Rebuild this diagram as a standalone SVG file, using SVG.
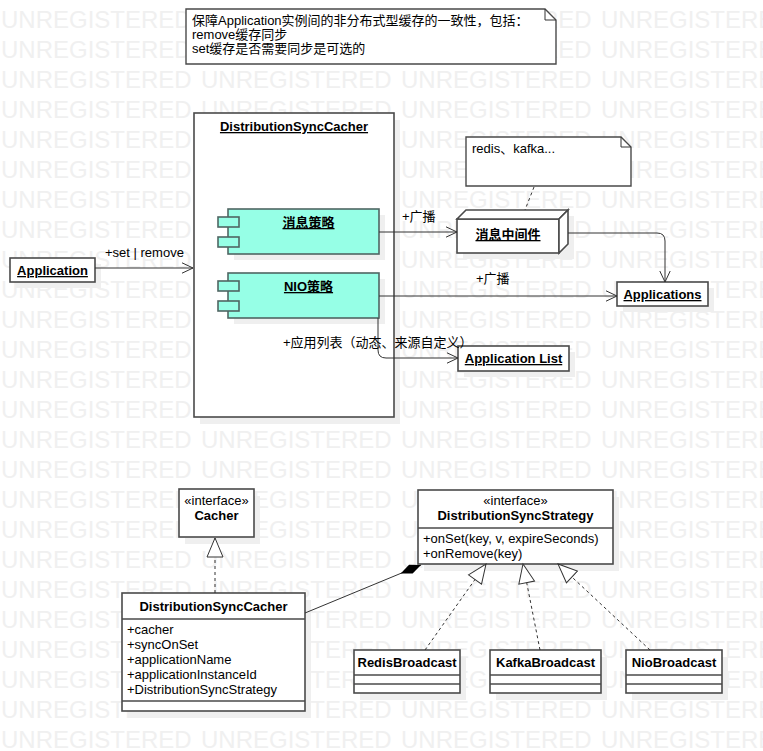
<svg xmlns="http://www.w3.org/2000/svg" width="763" height="751" viewBox="0 0 763 751">
<style>
.t{font-family:"Liberation Sans","Noto Sans CJK SC",sans-serif;font-size:13px;fill:#000}
.b{font-weight:bold}
.u{text-decoration:underline}
.m{text-anchor:middle}
.wm{font-family:"Liberation Sans",sans-serif;font-size:24px;fill:#f0f0f0}
.box{fill:#fff;stroke:#4a4a4a;stroke-width:1.6}
.comp{fill:#96ffe6;stroke:#4f6663;stroke-width:1.6}
.sh{fill:#efefef}
.note{fill:#fff;stroke:#4a4a4a;stroke-width:1.4}
.sep{stroke:#4a4a4a;stroke-width:1.6}
.ln{fill:none;stroke:#333;stroke-width:1}
.dash{stroke-dasharray:3,3}
</style>
<defs>
<marker id="open" markerUnits="userSpaceOnUse" markerWidth="14" markerHeight="12" refX="12" refY="6" orient="auto"><path d="M1,0.8 L12,6 L1,11.2" fill="none" stroke="#333" stroke-width="1"/></marker>
<marker id="tri" markerUnits="userSpaceOnUse" markerWidth="22" markerHeight="18" refX="20" refY="9" orient="auto"><path d="M1,1 L20,9 L1,17 Z" fill="#fff" stroke="#333" stroke-width="1"/></marker>
<marker id="dia" markerUnits="userSpaceOnUse" markerWidth="24" markerHeight="12" refX="23" refY="6" orient="auto"><path d="M1,6 L12,1.3 L23,6 L12,10.7 Z" fill="#000"/></marker>
<g id="wmrow"><text class="wm" x="1">UNREGISTERED</text><text class="wm" x="201">UNREGISTERED</text><text class="wm" x="401">UNREGISTERED</text><text class="wm" x="601">UNREGISTERED</text></g>
</defs>
<rect width="763" height="751" fill="#fff"/>
<g id="watermark">
<use href="#wmrow" y="28"/><use href="#wmrow" y="58"/><use href="#wmrow" y="88"/><use href="#wmrow" y="118"/><use href="#wmrow" y="148"/>
<use href="#wmrow" y="178"/><use href="#wmrow" y="208"/><use href="#wmrow" y="238"/><use href="#wmrow" y="268"/><use href="#wmrow" y="298"/>
<use href="#wmrow" y="328"/><use href="#wmrow" y="358"/><use href="#wmrow" y="388"/><use href="#wmrow" y="418"/><use href="#wmrow" y="448"/>
<use href="#wmrow" y="478"/><use href="#wmrow" y="508"/><use href="#wmrow" y="538"/><use href="#wmrow" y="568"/><use href="#wmrow" y="598"/>
<use href="#wmrow" y="628"/><use href="#wmrow" y="658"/><use href="#wmrow" y="688"/><use href="#wmrow" y="718"/><use href="#wmrow" y="748"/>
</g>
<g id="note-main">
<path class="note" d="M186,9 H545 L556,20 V64 H186 Z"/>
<path class="ln" d="M545,9 V20 H556" stroke="#4a4a4a"/>
<text class="t" x="192" y="25">保障Application实例间的非分布式型缓存的一致性，包括：</text>
<text class="t" x="192" y="39">remove缓存同步</text>
<text class="t" x="192" y="53">set缓存是否需要同步是可选的</text>
</g>
<g id="DistributionSyncCacher-frame">
<rect class="sh" x="200" y="120" width="200" height="304"/>
<rect class="box" x="194" y="113" width="200" height="304"/>
<text class="t b u m" x="294" y="131">DistributionSyncCacher</text>
</g>
<g id="msg-strategy">
<rect class="sh" x="234" y="215" width="151" height="45"/>
<rect class="comp" x="228" y="209" width="151" height="45"/>
<rect class="comp" x="218" y="217" width="21" height="10"/>
<rect class="comp" x="218" y="237" width="21" height="10"/>
<text class="t b u m" x="308.5" y="227">消息策略</text>
</g>
<g id="nio-strategy">
<rect class="sh" x="234" y="279" width="151" height="45"/>
<rect class="comp" x="228" y="273" width="151" height="45"/>
<rect class="comp" x="218" y="281" width="21" height="10"/>
<rect class="comp" x="218" y="301" width="21" height="10"/>
<text class="t b u m" x="308.5" y="291">NIO策略</text>
</g>
<g id="application">
<rect class="sh" x="16" y="264" width="85" height="24"/>
<rect class="box" x="10" y="258" width="85" height="24"/>
<text class="t b u m" x="52.5" y="275">Application</text>
</g>
<g id="note-redis">
<path class="note" d="M466,137 H621 L631,147 V186 H466 Z"/>
<path class="ln" d="M621,137 V147 H631" stroke="#4a4a4a"/>
<text class="t" x="472" y="153">redis、kafka...</text>
</g>
<g id="mq">
<rect class="sh" x="463" y="216" width="111" height="43"/>
<rect class="box" x="457" y="219" width="102" height="34"/>
<path class="box" d="M457,219 L466,210 H568 L559,219 Z"/>
<path class="box" d="M559,219 L568,210 V244 L559,253 Z"/>
<text class="t b u m" x="508" y="239">消息中间件</text>
</g>
<g id="applications">
<rect class="sh" x="623" y="288" width="91" height="24"/>
<rect class="box" x="617" y="282" width="91" height="24"/>
<text class="t b u m" x="662.5" y="299">Applications</text>
</g>
<g id="application-list">
<rect class="sh" x="464" y="352" width="111" height="25"/>
<rect class="box" x="458" y="346" width="111" height="25"/>
<text class="t b u m" x="513.5" y="363">Application List</text>
</g>
<g id="Cacher">
<rect class="sh" x="185" y="496" width="75" height="48"/>
<rect class="box" x="179" y="489" width="75" height="48"/>
<text class="t m" x="216.5" y="505">«interface»</text>
<text class="t b m" x="216.5" y="520">Cacher</text>
</g>
<g id="DistributionSyncStrategy">
<rect class="sh" x="424" y="497" width="195" height="74"/>
<rect class="box" x="418" y="490" width="195" height="74"/>
<line class="sep" x1="418" y1="528" x2="613" y2="528"/>
<text class="t m" x="515.5" y="505">«interface»</text>
<text class="t b m" x="515.5" y="520">DistributionSyncStrategy</text>
<text class="t" x="423" y="543">+onSet(key, v, expireSeconds)</text>
<text class="t" x="423" y="558">+onRemove(key)</text>
</g>
<g id="DistributionSyncCacher-class">
<rect class="sh" x="128" y="600" width="183" height="118"/>
<rect class="box" x="122" y="593" width="183" height="118"/>
<line class="sep" x1="122" y1="619" x2="305" y2="619"/>
<line class="sep" x1="122" y1="701" x2="305" y2="701"/>
<text class="t b m" x="213.5" y="611">DistributionSyncCacher</text>
<text class="t" x="127" y="634">+cacher</text>
<text class="t" x="127" y="649">+syncOnSet</text>
<text class="t" x="127" y="664">+applicationName</text>
<text class="t" x="127" y="679">+applicationInstanceId</text>
<text class="t" x="127" y="694">+DistributionSyncStrategy</text>
</g>
<g id="RedisBroadcast">
<rect class="sh" x="360" y="657" width="106" height="43"/>
<rect class="box" x="354" y="650" width="106" height="43"/>
<line class="sep" x1="354" y1="675" x2="460" y2="675"/>
<line class="sep" x1="354" y1="684" x2="460" y2="684"/>
<text class="t b m" x="407" y="667">RedisBroadcast</text>
</g>
<g id="KafkaBroadcast">
<rect class="sh" x="496" y="657" width="111" height="43"/>
<rect class="box" x="490" y="650" width="111" height="43"/>
<line class="sep" x1="490" y1="675" x2="601" y2="675"/>
<line class="sep" x1="490" y1="684" x2="601" y2="684"/>
<text class="t b m" x="545.5" y="667">KafkaBroadcast</text>
</g>
<g id="NioBroadcast">
<rect class="sh" x="632" y="657" width="96" height="43"/>
<rect class="box" x="626" y="650" width="96" height="43"/>
<line class="sep" x1="626" y1="675" x2="722" y2="675"/>
<line class="sep" x1="626" y1="684" x2="722" y2="684"/>
<text class="t b m" x="674" y="667">NioBroadcast</text>
</g>
<g id="connectors">
<line class="ln" x1="95" y1="268" x2="193" y2="268" marker-end="url(#open)"/>
<line class="ln" x1="379" y1="232" x2="457" y2="232" marker-end="url(#open)"/>
<path class="ln" d="M568,233 H657 Q665,233 665,241 V282" stroke="#555" marker-end="url(#open)"/>
<line class="ln" x1="379" y1="296" x2="617" y2="296" marker-end="url(#open)"/>
<path class="ln" d="M378,318 V350 Q378,358 386,358 H458" stroke="#555" marker-end="url(#open)"/>
<line class="ln dash" x1="534" y1="187" x2="525" y2="210"/>
<line class="ln dash" x1="215" y1="593" x2="215" y2="538" marker-end="url(#tri)"/>
<line class="ln" x1="305" y1="613" x2="421" y2="565" marker-end="url(#dia)"/>
<line class="ln dash" x1="425" y1="650" x2="486" y2="564" marker-end="url(#tri)"/>
<line class="ln dash" x1="540" y1="650" x2="523" y2="564" marker-end="url(#tri)"/>
<line class="ln dash" x1="650" y1="650" x2="558" y2="564" marker-end="url(#tri)"/>
<text class="t" x="105" y="257">+set | remove</text>
<text class="t" x="402" y="221">+广播</text>
<text class="t" x="476" y="283">+广播</text>
<text class="t" x="283" y="347">+应用列表（动态、来源自定义）</text>
</g>
</svg>
